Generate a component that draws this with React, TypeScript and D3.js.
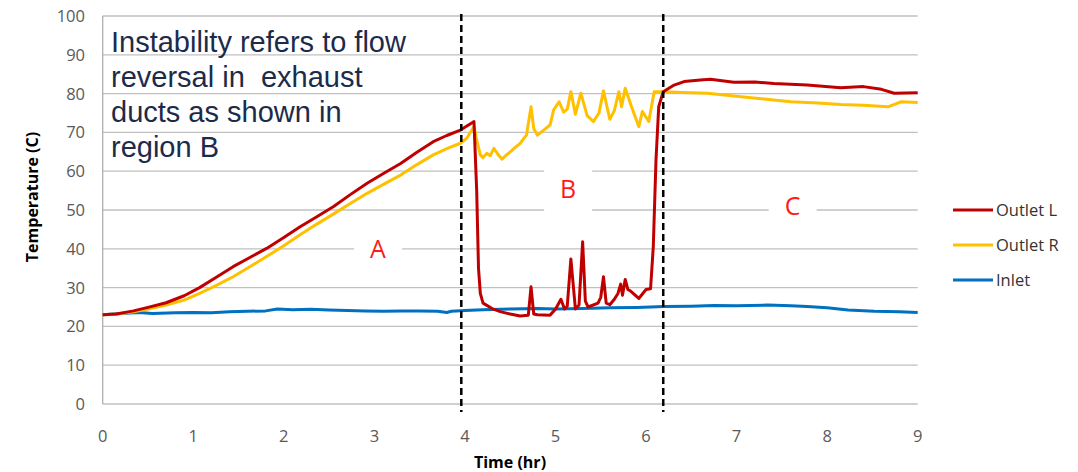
import React from 'react';
import * as d3 from 'd3';

// time (hr) / temperature (C)
const inletTime = [0, 0.2, 0.4, 0.55, 0.8, 1.0, 1.2, 1.4, 1.6, 1.8, 1.93, 2.1, 2.3, 2.5, 2.7, 2.9, 3.1, 3.3, 3.5, 3.7, 3.8, 3.85, 4.0, 4.2, 4.5, 4.8, 5.0, 5.3, 5.6, 5.9, 6.2, 6.5, 6.75, 7.0, 7.34, 7.6, 7.78, 8.0, 8.23, 8.52, 8.8, 9.0];
const inletTemp = [23.0, 23.3, 23.6, 23.3, 23.5, 23.6, 23.5, 23.8, 23.9, 24.0, 24.5, 24.3, 24.4, 24.2, 24.1, 24.0, 23.9, 24.0, 24.0, 23.9, 23.6, 23.9, 24.1, 24.3, 24.5, 24.6, 24.5, 24.6, 24.8, 24.9, 25.1, 25.2, 25.4, 25.3, 25.5, 25.3, 25.1, 24.8, 24.2, 23.9, 23.8, 23.6];

const outletLTime = [0, 0.15, 0.34, 0.5, 0.7, 0.9, 1.07, 1.25, 1.44, 1.62, 1.81, 2.0, 2.18, 2.36, 2.55, 2.73, 2.92, 3.1, 3.29, 3.47, 3.65, 3.8, 3.95, 4.08, 4.1, 4.13, 4.15, 4.17, 4.2, 4.3, 4.39, 4.5, 4.61, 4.7, 4.73, 4.76, 4.8, 4.94, 5.0, 5.06, 5.1, 5.13, 5.17, 5.22, 5.26, 5.3, 5.33, 5.36, 5.47, 5.5, 5.53, 5.56, 5.6, 5.65, 5.69, 5.72, 5.74, 5.77, 5.8, 5.83, 5.92, 6.0, 6.05, 6.08, 6.11, 6.14, 6.19, 6.31, 6.42, 6.6, 6.71, 6.97, 7.2, 7.41, 7.78, 8.15, 8.4, 8.6, 8.74, 9.0];
const outletLTemp = [23.0, 23.2, 24.0, 24.9, 26.1, 27.9, 30.0, 32.6, 35.4, 37.7, 40.1, 42.9, 45.7, 48.2, 50.9, 53.9, 56.9, 59.4, 62.0, 64.9, 67.6, 69.2, 70.6, 72.5, 72.8, 55.0, 35.0, 28.5, 26.0, 24.6, 23.8, 23.2, 22.7, 22.9, 30.2, 23.2, 23.0, 22.9, 24.4, 27.0, 24.5, 25.2, 37.4, 24.5, 25.5, 41.8, 26.5, 25.0, 26.0, 27.5, 32.8, 26.0, 25.6, 27.0, 28.5, 30.9, 28.0, 32.1, 29.5, 29.1, 27.2, 29.5, 29.7, 40.5, 62.9, 76.6, 80.5, 82.2, 83.1, 83.5, 83.7, 82.9, 83.0, 82.6, 82.2, 81.5, 81.8, 81.1, 80.1, 80.2];

const outletRTime = [0, 0.15, 0.34, 0.5, 0.7, 0.9, 1.07, 1.25, 1.44, 1.62, 1.81, 2.0, 2.18, 2.36, 2.55, 2.73, 2.92, 3.1, 3.29, 3.47, 3.65, 3.8, 3.95, 4.02, 4.1, 4.13, 4.17, 4.2, 4.24, 4.28, 4.32, 4.36, 4.41, 4.45, 4.5, 4.55, 4.61, 4.68, 4.73, 4.76, 4.8, 4.87, 4.94, 4.98, 5.04, 5.09, 5.13, 5.17, 5.22, 5.28, 5.35, 5.42, 5.48, 5.53, 5.6, 5.65, 5.7, 5.73, 5.77, 5.84, 5.92, 5.96, 6.03, 6.09, 6.19, 6.4, 6.68, 7.05, 7.3, 7.6, 7.9, 8.15, 8.4, 8.67, 8.82, 9.0];
const outletRTemp = [23.0, 23.1, 23.8, 24.5, 25.5, 26.8, 28.5, 30.5, 32.8, 35.3, 38.0, 40.8, 43.6, 46.3, 49.0, 51.6, 54.3, 56.6, 59.0, 61.7, 64.2, 65.8, 67.2, 68.5, 71.5, 68.0, 64.2, 63.5, 64.6, 64.0, 65.9, 64.5, 63.1, 64.0, 65.0, 66.0, 67.2, 69.3, 76.6, 71.0, 69.3, 70.6, 71.9, 75.8, 77.9, 75.2, 76.0, 80.5, 74.7, 80.1, 74.3, 72.8, 75.0, 80.7, 73.4, 75.6, 80.5, 76.6, 81.4, 76.6, 71.5, 75.4, 72.8, 80.5, 80.5, 80.3, 80.1, 79.2, 78.6, 77.9, 77.6, 77.2, 77.0, 76.6, 77.9, 77.7];

const seriesNames = ['Outlet L', 'Outlet R', 'Inlet'];
const seriesColors = ['#c00000', '#ffc000', '#0070c0'];
const regionBounds = [3.96, 6.19];
const regionLabels = ['A', 'B', 'C'];
const regionPos = [[3.04, 40], [5.14, 55.5], [7.62, 51]];
const noteLines = ['Instability refers to flow', 'reversal in  exhaust', 'ducts as shown in', 'region B'];

const W = 1078;
const H = 472;
const left = 102.7, right = 917.7, top = 16, bottom = 404;

export default function App() {
  const x = d3.scaleLinear().domain([0, 9]).range([left, right]);
  const y = d3.scaleLinear().domain([0, 100]).range([bottom, top]);
  const line = d3.line<[number, number]>().x(d => x(d[0])).y(d => y(d[1]));

  const series = [
    { t: outletLTime, v: outletLTemp },
    { t: outletRTime, v: outletRTemp },
    { t: inletTime, v: inletTemp },
  ];
  const drawOrder = [2, 1, 0];
  const yTicks = d3.range(0, 101, 10);
  const xTicks = d3.range(0, 10, 1);
  const boxH = [36, 48, 34];

  return (
    <svg width={W} height={H} style={{ position: 'absolute', left: 0, top: 0, background: '#fff' }}>
      {yTicks.map(v => (
        <line key={'g' + v} x1={left} x2={right} y1={y(v)} y2={y(v)} stroke="#c0c0c0" strokeWidth={1.3} />
      ))}
      <line x1={left} x2={left} y1={top} y2={bottom} stroke="#b0b0b0" strokeWidth={1.3} />
      {yTicks.map(v => (
        <text key={'yl' + v} x={85} y={y(v)} dy="0.36em" textAnchor="end" fontFamily="'Open Sans', sans-serif" fontSize={16.5} fill="#595959">{v}</text>
      ))}
      {xTicks.map(v => (
        <text key={'xl' + v} x={x(v)} y={436} dy="0.36em" textAnchor="middle" fontFamily="'Open Sans', sans-serif" fontSize={16.5} fill="#595959">{v}</text>
      ))}
      <text transform="translate(32,197) rotate(-90)" textAnchor="middle" dy="0.36em" fontFamily="'Open Sans', sans-serif" fontWeight="bold" fontSize={16} fill="#000">Temperature (C)</text>
      <text x={510} y={462} dy="0.36em" textAnchor="middle" fontFamily="'Open Sans', sans-serif" fontWeight="bold" fontSize={16} fill="#000">Time (hr)</text>

      {regionLabels.map((r, i) => (
        <g key={r}>
          <rect x={x(regionPos[i][0]) - 24} y={y(regionPos[i][1]) - boxH[i] / 2} width={48} height={boxH[i]} fill="#fff" />
          <text x={x(regionPos[i][0])} y={y(regionPos[i][1])} dy="0.36em" textAnchor="middle" fontFamily="'Open Sans', sans-serif" fontSize={25} fill="#ff1a1a">{r}</text>
        </g>
      ))}

      {drawOrder.map(i => (
        <path key={seriesNames[i]} d={line(series[i].t.map((t, k) => [t, series[i].v[k]] as [number, number])) || ''}
          fill="none" stroke={seriesColors[i]} strokeWidth={3} strokeLinejoin="round" />
      ))}

      {regionBounds.map(b => (
        <line key={'d' + b} x1={x(b)} x2={x(b)} y1={14} y2={412} stroke="#000" strokeWidth={2.5} strokeDasharray="7,4" />
      ))}

      {noteLines.map((s, i) => (
        <text key={'n' + i} x={111} y={52 + i * 35} style={{ whiteSpace: 'pre' }} fontFamily="'Liberation Sans', Arial, sans-serif" fontSize={29} fill="#1c2b4a">{s}</text>
      ))}

      {seriesNames.map((n, i) => (
        <g key={'lg' + n} transform={`translate(953,${210 + i * 35})`}>
          <line x1={0} x2={40} y1={0} y2={0} stroke={seriesColors[i]} strokeWidth={3} />
          <text x={43} y={0} dy="0.36em" fontFamily="'Open Sans', sans-serif" fontSize={16.5} fill="#333">{n}</text>
        </g>
      ))}
    </svg>
  );
}
